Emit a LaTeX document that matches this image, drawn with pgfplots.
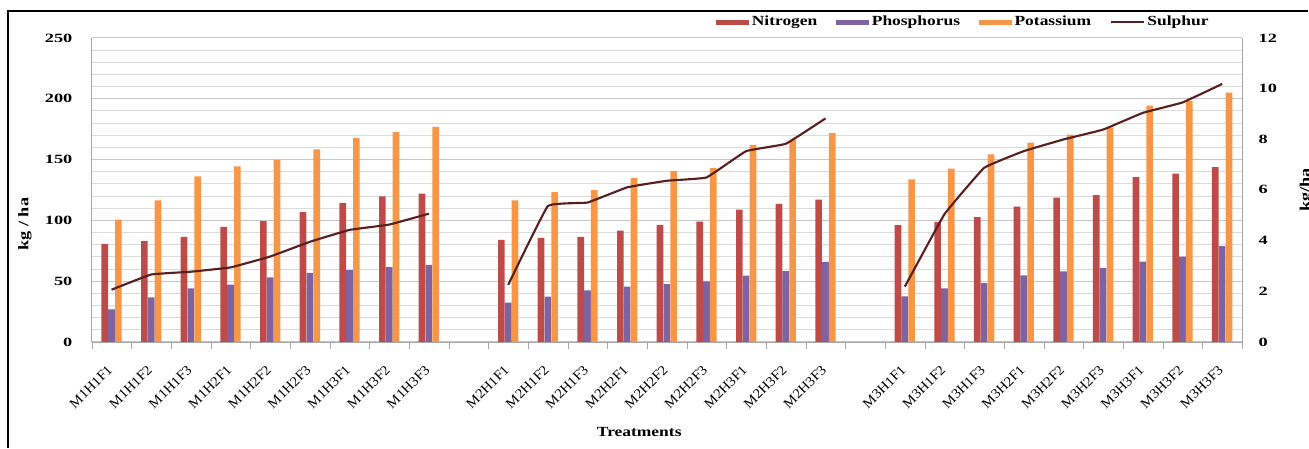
\documentclass[border=0pt]{standalone}
\usepackage{fontspec}
\setmainfont{Liberation Serif}[FakeStretch=1.25]
\newfontfamily\tickfont{Liberation Serif}[FakeStretch=1.45]
\newfontfamily\plainfont{Liberation Serif}[FakeStretch=1.08]
\usepackage{pgfplots}
\usepackage{pgfplotstable}
\pgfplotsset{compat=1.18}
\definecolor{cN}{HTML}{BE4B48}
\definecolor{cP}{HTML}{7F63A1}
\definecolor{cK}{HTML}{F79646}
\definecolor{cS}{HTML}{5A1F1F}
\pgfplotsset{
  barleg/.style={legend image code/.code={\fill[##1] (0pt,-1.9pt) rectangle (25pt,1.9pt);}},
  lineleg/.style={legend image code/.code={\draw[##1] (0pt,0pt) -- (25pt,0pt);}},
}
\pgfplotstableread{
x N P K S
0 80.3 26.8 100.5 2.06
1 82.8 36.6 116.4 2.66
2 86.3 44.0 136.1 2.77
3 94.5 47.0 144.3 2.94
4 99.4 53.0 149.4 3.37
5 106.8 56.8 158.4 3.95
6 114.2 59.0 167.8 4.42
7 119.7 61.5 172.4 4.63
8 121.9 63.4 176.8 5.06
9 nan nan nan nan
10 83.9 32.2 116.4 2.25
11 85.5 37.2 123.2 5.36
12 86.3 42.3 124.9 5.50
13 91.5 45.4 134.7 6.10
14 96.2 47.5 140.4 6.36
15 98.9 49.7 142.9 6.49
16 108.8 54.4 162.0 7.53
17 113.4 58.2 166.4 7.82
18 117.0 65.8 171.6 8.82
19 nan nan nan nan
20 96.1 37.5 133.6 2.18
21 98.6 44.0 142.4 5.04
22 102.7 48.4 154.1 6.87
23 111.2 54.6 163.9 7.53
24 118.6 57.9 170.5 7.99
25 120.7 60.9 176.2 8.38
26 135.5 66.1 194.3 9.04
27 138.3 70.2 198.1 9.45
28 143.7 78.7 204.9 10.18
}\data
\begin{document}
\begin{tikzpicture}
\begin{axis}[
  name=ax,
  scale only axis, width=865.5pt, height=228.75pt,
  xmin=-0.5, xmax=28.5, ymin=0, ymax=250,
  axis x line*=bottom, axis y line*=left,
  axis line style={-, draw=gray!70},
  ytick={0,50,...,250}, minor y tick num=4,
  ymajorgrids, yminorgrids,
  major grid style={draw=gray!45, line width=0.6pt},
  minor grid style={draw=gray!28, line width=0.6pt},
  major tick length=0pt, minor tick length=0pt,
  /pgf/number format/assume math mode=true,
  yticklabel style={font=\tickfont\bfseries\fontsize{9.5}{10}\selectfont, xshift=-11pt},
  xtick={0,1,2,3,4,5,6,7,8,10,11,12,13,14,15,16,17,18,20,21,22,23,24,25,26,27,28},
  xticklabels={M1H1F1,M1H1F2,M1H1F3,M1H2F1,M1H2F2,M1H2F3,M1H3F1,M1H3F2,M1H3F3,
               M2H1F1,M2H1F2,M2H1F3,M2H2F1,M2H2F2,M2H2F3,M2H3F1,M2H3F2,M2H3F3,
               M3H1F1,M3H1F2,M3H1F3,M3H2F1,M3H2F2,M3H2F3,M3H3F1,M3H3F2,M3H3F3},
  xticklabel style={rotate=45, anchor=north east, font=\plainfont\fontsize{10.3}{11}\selectfont, xshift=-11pt, yshift=-6pt},
  extra x ticks={-0.5,0.5,...,28.5},
  extra x tick labels={},
  extra x tick style={major tick length=5pt, tick align=outside, tick style={draw=gray!70}},
  ylabel={kg / ha},
  ylabel style={at={(axis description cs:-0.058,0.387)}, anchor=center, font=\bfseries\fontsize{11}{12}\selectfont},
  xlabel={Treatments},
  xlabel style={at={(axis description cs:0.476,-0.295)}, anchor=center, font=\bfseries\fontsize{10.5}{11}\selectfont},
  legend columns=4,
  legend style={at={(axis description cs:0.758,1.052)}, anchor=center, draw=none, fill=none,
    font=\bfseries\fontsize{10.5}{11}\selectfont,
    /tikz/every even column/.append style={column sep=12pt}},
]
\addplot[ybar, bar width=0.168, bar shift=-0.172, fill=cN, draw=none, barleg] table[x=x,y=N]{\data};
\addlegendentry{Nitrogen}
\addplot[ybar, bar width=0.168, bar shift=0, fill=cP, draw=none, barleg] table[x=x,y=P]{\data};
\addlegendentry{Phosphorus}
\addplot[ybar, bar width=0.168, bar shift=0.172, fill=cK, draw=none, barleg] table[x=x,y=K]{\data};
\addlegendentry{Potassium}
\addlegendimage{cS, line width=1.4pt, lineleg}
\addlegendentry{Sulphur}
\end{axis}
\begin{axis}[
  scale only axis, width=865.5pt, height=228.75pt,
  xmin=-0.5, xmax=28.5, ymin=0, ymax=12,
  axis x line=none, axis y line*=right,
  axis line style={-, draw=gray!70},
  xtick=\empty,
  ytick={0,2,...,12},
  major tick length=0pt,
  /pgf/number format/assume math mode=true,
  yticklabel style={font=\tickfont\bfseries\fontsize{9.5}{10}\selectfont, xshift=9pt},
  ylabel={kg/ha},
  ylabel style={at={(axis description cs:1.056,0.5)}, anchor=center, font=\bfseries\fontsize{11}{12}\selectfont},
  unbounded coords=jump,
]
\addplot[cS, line width=1.6pt, smooth, tension=0.15] table[x=x,y=S]{\data};
\end{axis}
\pgfresetboundingbox
\path ([xshift=-69pt,yshift=-75pt]ax.south west) rectangle ([xshift=47.25pt,yshift=28.5pt]ax.north east);
\draw[black, line width=0.9pt] ([xshift=-63pt,yshift=-80pt]ax.south west) -- ([xshift=-63pt,yshift=20.25pt]ax.north west) -- ([xshift=50pt,yshift=20.25pt]ax.north east);
\end{tikzpicture}
\end{document}
